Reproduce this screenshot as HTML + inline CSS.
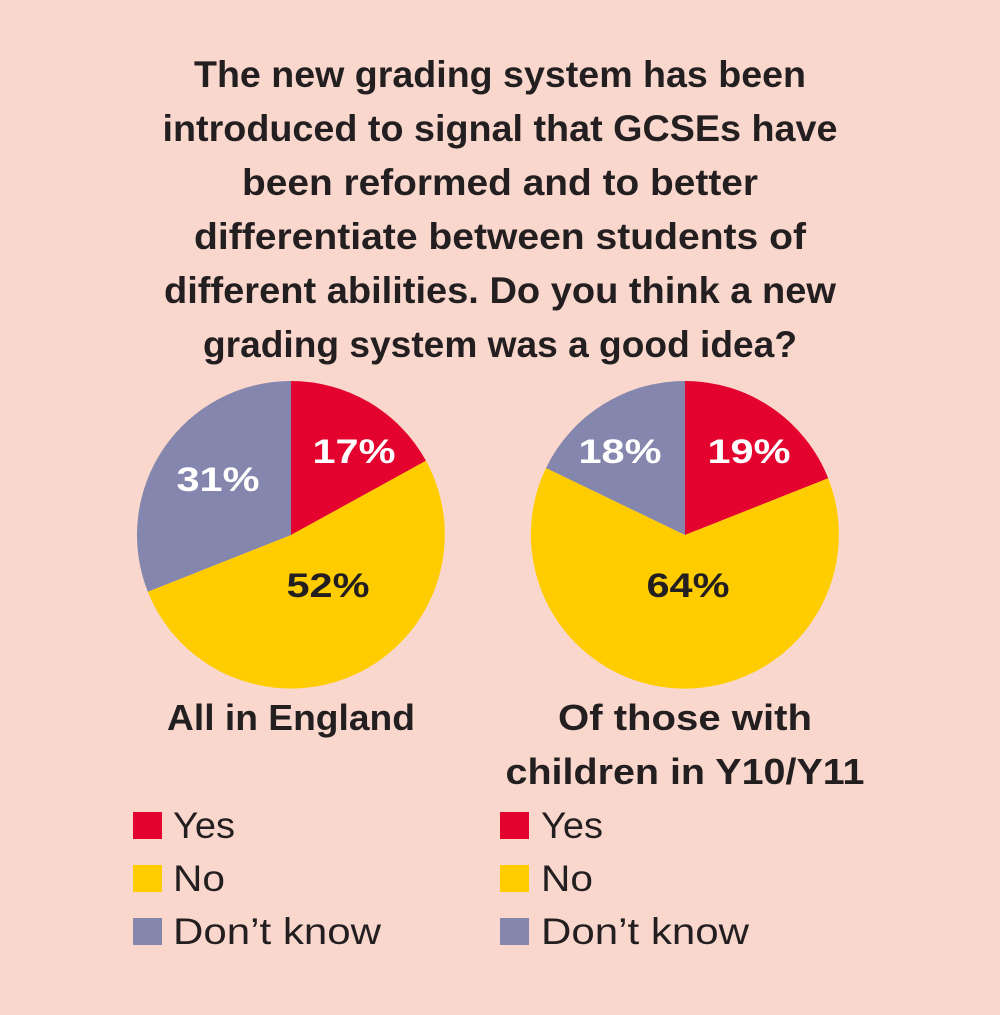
<!DOCTYPE html>
<html><head><meta charset="utf-8"><style>
body{margin:0;background:#fad7cd;}
svg{display:block}
text{font-family:"Liberation Sans",sans-serif;}
</style></head><body>
<svg width="1000" height="1015" viewBox="0 0 1000 1015">
<rect width="1000" height="1015" fill="#fad7cd"/>
<g font-size="37" fill="#231f20" text-anchor="middle" font-weight="bold">
<text x="500" y="87" textLength="612" lengthAdjust="spacingAndGlyphs">The new grading system has been</text>
<text x="500" y="141" textLength="675" lengthAdjust="spacingAndGlyphs">introduced to signal that GCSEs have</text>
<text x="500" y="195" textLength="516" lengthAdjust="spacingAndGlyphs">been reformed and to better</text>
<text x="500" y="249" textLength="612" lengthAdjust="spacingAndGlyphs">differentiate between students of</text>
<text x="500" y="303" textLength="672" lengthAdjust="spacingAndGlyphs">different abilities. Do you think a new</text>
<text x="500" y="357" textLength="594" lengthAdjust="spacingAndGlyphs">grading system was a good idea?</text>
</g>
<path d="M291,535 L291,381 A154,154 0 0 1 426,460.8 Z" fill="#e4032e"/>
<path d="M291,535 L426,460.8 A154,154 0 1 1 147.8,591.7 Z" fill="#ffcc00"/>
<path d="M291,535 L147.8,591.7 A154,154 0 0 1 291,381 Z" fill="#8586ad"/>
<path d="M685,535 L685,381 A154,154 0 0 1 828.2,478.3 Z" fill="#e4032e"/>
<path d="M685,535 L828.2,478.3 A154,154 0 1 1 546,468 Z" fill="#ffcc00"/>
<path d="M685,535 L546,468 A154,154 0 0 1 685,381 Z" fill="#8586ad"/>
<g font-size="34" font-weight="bold" text-anchor="middle">
<text x="354" y="463" fill="#fff" textLength="83" lengthAdjust="spacingAndGlyphs">17%</text>
<text x="218" y="491" fill="#fff" textLength="83" lengthAdjust="spacingAndGlyphs">31%</text>
<text x="328" y="597" fill="#231f20" textLength="83" lengthAdjust="spacingAndGlyphs">52%</text>
<text x="749" y="463" fill="#fff" textLength="83" lengthAdjust="spacingAndGlyphs">19%</text>
<text x="620" y="463" fill="#fff" textLength="83" lengthAdjust="spacingAndGlyphs">18%</text>
<text x="688" y="597" fill="#231f20" textLength="83" lengthAdjust="spacingAndGlyphs">64%</text>
</g>
<g font-size="36" font-weight="bold" text-anchor="middle" fill="#231f20">
<text x="291" y="730" textLength="248" lengthAdjust="spacingAndGlyphs">All in England</text>
<text x="685" y="730" textLength="254" lengthAdjust="spacingAndGlyphs">Of those with</text>
<text x="685" y="784" textLength="359" lengthAdjust="spacingAndGlyphs">children in Y10/Y11</text>
</g>
<g font-size="37" fill="#231f20">
<rect x="133" y="812" width="29" height="27" fill="#e4032e"/>
<rect x="133" y="865" width="29" height="27" fill="#ffcc00"/>
<rect x="133" y="918" width="29" height="27" fill="#8586ad"/>
<text x="173" y="838" textLength="62" lengthAdjust="spacingAndGlyphs">Yes</text>
<text x="173" y="891" textLength="52" lengthAdjust="spacingAndGlyphs">No</text>
<text x="173" y="944" textLength="208" lengthAdjust="spacingAndGlyphs">Don’t know</text>
<rect x="500" y="812" width="29" height="27" fill="#e4032e"/>
<rect x="500" y="865" width="29" height="27" fill="#ffcc00"/>
<rect x="500" y="918" width="29" height="27" fill="#8586ad"/>
<text x="541" y="838" textLength="62" lengthAdjust="spacingAndGlyphs">Yes</text>
<text x="541" y="891" textLength="52" lengthAdjust="spacingAndGlyphs">No</text>
<text x="541" y="944" textLength="208" lengthAdjust="spacingAndGlyphs">Don’t know</text>
</g>
</svg>
</body></html>
